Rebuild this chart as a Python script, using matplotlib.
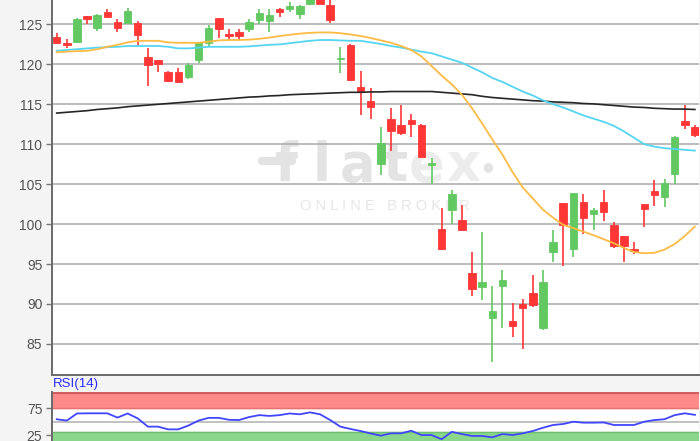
import matplotlib
matplotlib.use('Agg')
import matplotlib.pyplot as plt
from matplotlib.lines import Line2D
import numpy as np

# ---------------- data ----------------
opens = [123.4, 122.65, 122.8, 126.05, 124.5, 126.5, 125.3, 125.2, 125.2, 120.9,
         120.55, 119.1, 119.1, 118.4, 120.5, 122.7, 125.75, 123.8, 124.05, 124.45,
         125.55, 125.45, 126.95, 126.9, 126.3, 127.6, 128.5, 127.45, 120.65, 122.45,
         117.2, 115.45, 107.55, 113.2, 112.35, 113.05, 112.35, 107.45, 99.35, 101.7,
         100.45, 93.85, 92.1, 88.2, 92.2, 87.8, 89.95, 91.35, 87.0, 96.55,
         102.6, 96.9, 102.75, 101.25, 102.75, 99.9, 98.55, 96.9, 102.55, 104.1,
         103.35, 106.25, 112.95, 112.2]
highs = [123.9, 123.2, 125.8, 126.1, 126.3, 126.95, 125.7, 127.0, 125.4, 122.0,
         120.6, 119.2, 119.6, 120.15, 122.8, 124.95, 125.8, 124.4, 124.4, 125.65,
         126.9, 126.9, 127.0, 127.85, 127.45, 128.8, 128.9, 128.2, 122.2, 122.55,
         119.2, 117.0, 112.2, 114.5, 114.9, 113.75, 112.55, 108.25, 102.0, 104.3,
         102.4, 96.55, 99.05, 92.2, 94.3, 90.1, 90.6, 93.65, 94.3, 99.2,
         102.6, 103.95, 103.75, 102.0, 104.3, 100.3, 98.55, 97.75, 102.55, 105.55,
         105.65, 111.05, 114.85, 112.4]
lows = [122.5, 122.0, 122.7, 125.05, 124.2, 125.8, 124.0, 125.15, 122.45, 117.3,
        119.1, 117.75, 117.65, 118.15, 120.2, 122.35, 123.3, 123.2, 123.05, 124.1,
        125.05, 124.0, 125.9, 126.5, 125.7, 127.45, 127.5, 125.15, 118.9, 117.9,
        113.7, 113.2, 106.1, 109.2, 111.1, 110.95, 108.4, 105.05, 96.8, 100.0,
        99.3, 91.0, 90.5, 82.7, 87.0, 85.85, 84.4, 89.6, 86.7, 95.3,
        94.7, 95.9, 98.8, 99.3, 100.4, 97.0, 95.2, 96.3, 99.6, 102.3,
        102.2, 105.05, 111.9, 110.95]
closes = [122.65, 122.45, 125.65, 125.7, 126.2, 125.9, 124.6, 126.7, 123.65, 119.9,
          120.05, 117.9, 117.85, 119.9, 122.8, 124.5, 124.4, 123.5, 123.5, 125.3,
          126.4, 126.2, 126.5, 127.35, 127.35, 128.5, 127.55, 125.5, 120.8, 118.05,
          116.6, 114.7, 110.15, 111.6, 111.4, 112.55, 108.4, 107.6, 96.9, 103.8,
          99.3, 91.9, 92.75, 89.15, 93.0, 87.25, 89.55, 89.9, 92.8, 97.8,
          99.9, 103.9, 100.75, 101.8, 101.45, 97.3, 97.2, 96.65, 101.9, 103.65,
          105.1, 110.85, 112.4, 111.15]

ma_long = [113.9, 114.0, 114.1, 114.2, 114.35, 114.45, 114.55, 114.7, 114.8, 114.9,
           115.0, 115.1, 115.2, 115.3, 115.4, 115.5, 115.6, 115.7, 115.8, 115.9,
           115.95, 116.05, 116.1, 116.2, 116.25, 116.3, 116.35, 116.4, 116.45, 116.5,
           116.5, 116.55, 116.55, 116.6, 116.6, 116.6, 116.6, 116.6, 116.5, 116.4,
           116.3, 116.2, 116.0, 115.85, 115.75, 115.65, 115.55, 115.45, 115.4, 115.3,
           115.25, 115.2, 115.1, 115.05, 114.95, 114.85, 114.75, 114.65, 114.6, 114.5,
           114.45, 114.4, 114.4, 114.35]
ma_mid = [121.7, 121.8, 121.9, 122.0, 122.1, 122.15, 122.2, 122.3, 122.3, 122.3,
          122.3, 122.2, 122.0, 122.0, 122.1, 122.2, 122.2, 122.2, 122.2, 122.25,
          122.35, 122.45, 122.5, 122.65, 122.8, 122.95, 123.05, 123.05, 123.0, 122.95,
          122.95, 122.75, 122.55, 122.3, 122.1, 121.85, 121.6, 121.4, 121.0, 120.6,
          120.2, 119.6, 119.0, 118.3, 117.8, 117.2, 116.6, 116.1, 115.5, 115.0,
          114.6, 114.1, 113.6, 113.2, 112.8, 112.3, 111.6, 110.8, 110.0, 109.7,
          109.5, 109.4, 109.3, 109.2]
ma_short = [121.5, 121.6, 121.65, 121.7, 121.9, 122.2, 122.45, 122.75, 122.95, 122.95,
            122.95, 122.75, 122.7, 122.7, 122.7, 122.85, 123.0, 123.05, 123.05, 123.1,
            123.2, 123.35, 123.55, 123.7, 123.85, 123.95, 124.0, 124.0, 123.9, 123.75,
            123.55, 123.3, 123.0, 122.7, 122.3, 121.8, 121.0, 119.8, 118.6, 117.5,
            116.2, 114.5, 112.6, 110.6, 108.7, 106.5, 104.6, 103.2, 101.8, 100.8,
            99.9, 99.5, 99.05, 98.6, 98.1, 97.6, 97.0, 96.5, 96.35, 96.4,
            96.8, 97.5, 98.5, 99.7]
rsi = [54.5, 52, 65, 65.3, 65.3, 65.3, 57.5, 65, 56, 41,
       41, 36, 36, 43, 52, 57, 57, 53.5, 53, 58.5,
       62, 60.5, 62, 65, 63.5, 67, 63.5, 53, 41, 36.7,
       33, 28.5, 24.5, 28.8, 28.8, 33.5, 25.7, 25.7, 18, 31.5,
       27.5, 24, 24, 21.5, 27.5, 25.7, 28.8, 33, 39, 44,
       45.8, 50, 48.2, 48.2, 48.6, 44, 44, 44, 50, 53,
       54.5, 62, 65.3, 62.5]

price_ticks = [85, 90, 95, 100, 105, 110, 115, 120, 125]
rsi_ticks = [25, 75]
rsi_label = "RSI(14)"

# ---------------- figure ----------------
W, H = 700, 441
fig = plt.figure(figsize=(W / 100, H / 100), dpi=100)
fig.patch.set_facecolor('#f4f4f4')

def fx(px):
    return px / W

def fy(py):
    return 1 - py / H

left_px, right_px = 52, 699
ax = fig.add_axes([fx(left_px), fy(375), fx(right_px) - fx(left_px), fy(0) - fy(375)])
ax.set_facecolor('white')

n = len(opens)
x = np.arange(n)
step = 10.13
ax.set_xlim(-(56.7 - left_px) / step, (n - 1) + (right_px - 694.9) / step)
ax.set_ylim(81.1, 128.06)

RED = '#ff3636'
GREEN = '#62c862'
o = np.array(opens); c = np.array(closes); h = np.array(highs); l = np.array(lows)
up = c >= o
cols = np.where(up, GREEN, RED)
ax.vlines(x, l, h, colors=cols, lw=1.2, zorder=3)
bottoms = np.minimum(o, c)
heights = np.maximum(np.abs(c - o), 0.15)
ax.bar(x, heights, bottom=bottoms, width=0.74, color=cols, edgecolor=cols, lw=0.6, zorder=4)

ax.plot(x, ma_long, color='#262626', lw=1.2, zorder=5)
ax.plot(x, ma_mid, color='#55d5f2', lw=1.3, zorder=5)
ax.plot(x, ma_short, color='#fdbb45', lw=1.3, zorder=5)

ax.set_yticks(price_ticks)
ax.set_yticklabels([str(t) for t in price_ticks], fontfamily='Liberation Sans', fontsize=10, color='#555555')
ax.set_xticks([])
ax.grid(axis='y', color='#a9a9a9', lw=1.1, zorder=1)
ax.set_axisbelow(True)
ax.tick_params(axis='y', length=4, width=1, color='#777777', pad=3)
for s in ['top', 'right']:
    ax.spines[s].set_visible(False)
for s in ['left', 'bottom']:
    ax.spines[s].set_color('#6a6a6a')
    ax.spines[s].set_linewidth(1.4)

# watermark (behind grid and candles)
tf = fig.transFigure
wm_col = '#e3e3e3'
for ch, px in zip(['f', 'l', 'a', 't'], [287, 322, 357, 395]):
    ax.text(fx(px), fy(181), ch, transform=tf, fontsize=38, fontweight='bold', color=wm_col,
            ha='center', va='baseline', family='DejaVu Sans', zorder=0.2)
ax.add_line(Line2D([fx(262), fx(292)], [fy(161), fy(161)], transform=tf, color=wm_col,
                   lw=6, solid_capstyle='round', zorder=0.2))
for ch, px in zip(['e', 'x'], [427, 463]):
    ax.text(fx(px), fy(181), ch, transform=tf, fontsize=38, fontweight='bold', color='#ececec',
            ha='center', va='baseline', family='DejaVu Sans', zorder=0.2)
ax.text(fx(488), fy(167), '\u25cf', transform=tf, fontsize=9, color='#e4e4e4',
        ha='center', va='center', zorder=0.2)
ax.text(fx(385), fy(206), 'O N L I N E   B R O K E R', transform=tf, fontsize=10.5, color='#e6e6e6',
        ha='center', va='center', family='Liberation Sans', zorder=0.2)

# ---------------- RSI panel ----------------
rsi_top_px = 392.3
px_per_unit = 0.548
ymax = 75 + (408 - rsi_top_px) / px_per_unit
ymin = 0
bottom_px = rsi_top_px + (ymax - ymin) * px_per_unit
ax2 = fig.add_axes([fx(left_px), fy(bottom_px), fx(right_px) - fx(left_px), fy(rsi_top_px) - fy(bottom_px)])
ax2.set_facecolor('white')
ax2.set_xlim(ax.get_xlim())
ax2.set_ylim(ymin, ymax)
ax2.axhspan(75, ymax, color='#ff8a8a', zorder=1)
ax2.axhline(75, color='#e57373', lw=1, zorder=2)
ax2.axhline(ymax - 0.8, color='#d06060', lw=1.6, zorder=2)
ax2.axhspan(0, 31.5, color='#8ad68a', zorder=1)
ax2.axhline(31.5, color='#6fbf6f', lw=1, zorder=2)
ax2.axhline(50, color='#b0b0b0', lw=1.1, zorder=2)
ax2.plot(x, rsi, color='#4046ff', lw=1.3, zorder=3)
ax2.set_yticks(rsi_ticks)
ax2.set_yticklabels([str(t) for t in rsi_ticks], fontfamily='Liberation Sans', fontsize=10, color='#555555')
ax2.set_xticks([])
ax2.tick_params(axis='y', length=4, width=1, color='#777777', pad=3)
for s in ['top', 'right', 'bottom']:
    ax2.spines[s].set_visible(False)
ax2.spines['left'].set_color('#6a6a6a')
ax2.spines['left'].set_linewidth(1.4)

fig.text(fx(53), fy(384.5), rsi_label, fontsize=9.5, color='#2b2bff', ha='left', va='center',
         family='Liberation Sans')

fig.savefig('out.png', dpi=100, facecolor=fig.get_facecolor())
